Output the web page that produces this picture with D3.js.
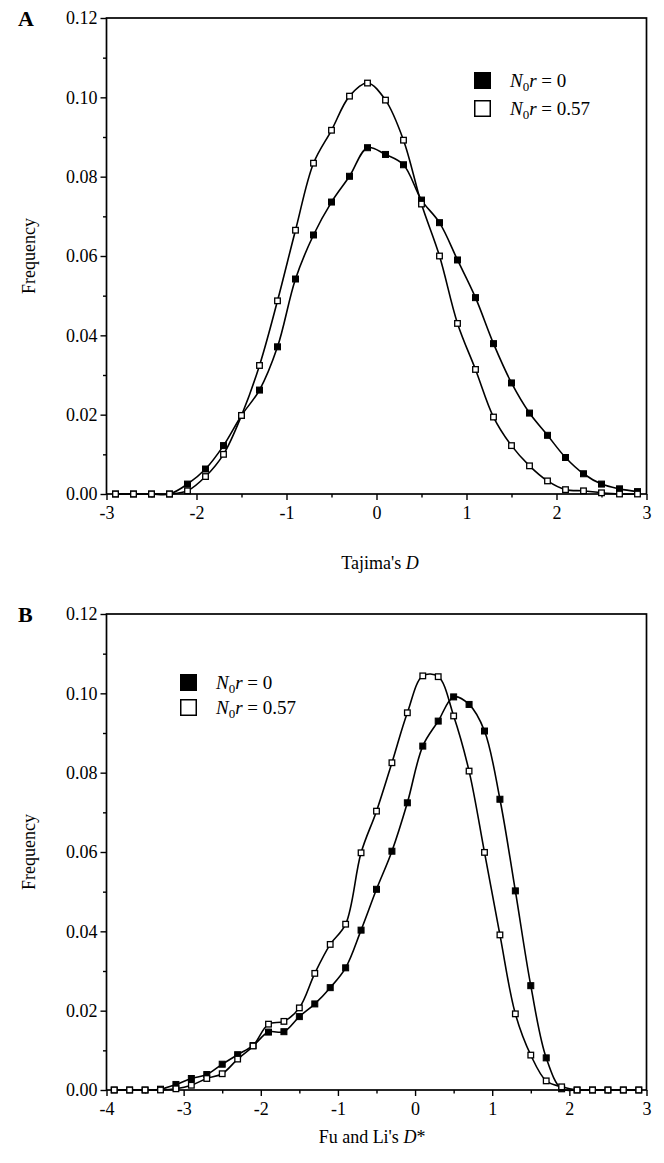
<!DOCTYPE html>
<html>
<head>
<meta charset="utf-8">
<script src="https://cdn.jsdelivr.net/npm/d3@7"></script>
<style>
  body { margin: 0; background: #fff; }
  svg text { font-family: "Liberation Serif", "Times New Roman", Times, serif !important; fill: #000; }
  .frame { fill: none; stroke: #000; stroke-width: 1.7px; }
  .axis path { display: none; }
  .axis line { stroke: #000; stroke-width: 1.4px; }
  .data-line { fill: none; stroke: #000; stroke-width: 1.6px; }
  .dot-filled { fill: #000; stroke: #000; stroke-width: 1px; }
  .dot-open { fill: #fff; stroke: #000; stroke-width: 1.3px; }
</style>
</head>
<body>
<svg id="chart" width="664" height="1163" font-family="Liberation Serif, serif"></svg>
<script>
// Panel A: Tajima's D
const tajimaD = [-2.9,-2.7,-2.5,-2.3,-2.1,-1.9,-1.7,-1.5,-1.3,-1.1,-0.9,-0.7,-0.5,-0.3,-0.1,
                 0.1,0.3,0.5,0.7,0.9,1.1,1.3,1.5,1.7,1.9,2.1,2.3,2.5,2.7,2.9];
const tajimaFreq0 = [0,0,0,0,0.0025,0.0063,0.0122,0.0198,0.0262,0.0371,0.0542,0.0653,0.0736,0.0801,0.0873,
                     0.0856,0.0830,0.0741,0.0684,0.0590,0.0495,0.0379,0.0280,0.0204,0.0148,0.0092,0.0051,0.0025,0.0013,0.0006];
const tajimaFreq057 = [0,0,0,0,0.0008,0.0044,0.0100,0.0198,0.0324,0.0487,0.0665,0.0834,0.0917,0.1003,0.1036,
                       0.0993,0.0892,0.0731,0.0600,0.0430,0.0314,0.0194,0.0122,0.0071,0.0033,0.0011,0.0008,0.0003,0,0];

// Panel B: Fu and Li's D*
const fuLiD = [-3.9,-3.7,-3.5,-3.3,-3.1,-2.9,-2.7,-2.5,-2.3,-2.1,-1.9,-1.7,-1.5,-1.3,-1.1,-0.9,-0.7,-0.5,-0.3,-0.1,
               0.1,0.3,0.5,0.7,0.9,1.1,1.3,1.5,1.7,1.9,2.1,2.3,2.5,2.7,2.9];
const fuLiFreq0 = [0,0,0,0.0002,0.0014,0.0029,0.0039,0.0065,0.0089,0.0112,0.0146,0.0147,0.0185,0.0217,0.0258,0.0308,0.0403,0.0506,0.0602,0.0724,
                   0.0867,0.0930,0.0991,0.0972,0.0905,0.0733,0.0502,0.0263,0.0081,0.0003,0,0,0,0,0];
const fuLiFreq057 = [0,0,0,0,0.0003,0.0012,0.0029,0.0041,0.0078,0.0111,0.0166,0.0173,0.0207,0.0294,0.0367,0.0418,0.0598,0.0703,0.0825,0.0951,
                     0.1044,0.1042,0.0943,0.0804,0.0599,0.0391,0.0192,0.0088,0.0023,0.0008,0,0,0,0,0];

const yTicks = [0, 0.02, 0.04, 0.06, 0.08, 0.10, 0.12];
const yMinorTicks = [0.01, 0.03, 0.05, 0.07, 0.09, 0.11];
const tajimaTicks = [-3, -2, -1, 0, 1, 2, 3];
const tajimaMinor = [-2.5, -1.5, -0.5, 0.5, 1.5, 2.5];
const fuLiTicks = [-4, -3, -2, -1, 0, 1, 2, 3];
const fuLiMinor = [-3.5, -2.5, -1.5, -0.5, 0.5, 1.5, 2.5];
const legendValues = ["0", "0.57"];

const FONT = "Liberation Serif, Times New Roman, serif";
const svg = d3.select("#chart");

function drawPanel(p) {
    let x = d3.scaleLinear().domain(p.xDomain).range([106.5, 646.5]);
    let y = d3.scaleLinear().domain([0, 0.12]).range([p.bottom, p.top]);

    let g = svg.append("g");

    // minor ticks
    g.append("g")
        .attr("class", "axis")
        .attr("transform", "translate(106.5,0)")
        .call(d3.axisLeft(y).tickValues(yMinorTicks).tickSize(3.5).tickFormat(""));
    g.append("g")
        .attr("class", "axis")
        .attr("transform", "translate(0," + p.bottom + ")")
        .call(d3.axisBottom(x).tickValues(p.xMinor).tickSize(3.5).tickFormat(""));

    // major ticks
    g.append("g")
        .attr("class", "axis")
        .attr("transform", "translate(106.5,0)")
        .call(d3.axisLeft(y).tickValues(yTicks).tickSize(6).tickPadding(3).tickFormat(d3.format(".2f")))
        .attr("font-family", FONT).attr("font-size", 18);
    g.append("g")
        .attr("class", "axis")
        .attr("transform", "translate(0," + p.bottom + ")")
        .call(d3.axisBottom(x).tickValues(p.xTicks).tickSize(6).tickPadding(6).tickFormat(d => String(d)))
        .attr("font-family", FONT).attr("font-size", 18);

    // frame
    g.append("rect")
        .attr("class", "frame")
        .attr("x", 106.5)
        .attr("y", p.top)
        .attr("width", 540)
        .attr("height", p.bottom - p.top);

    let line = d3.line()
        .curve(d3.curveCatmullRom.alpha(0.5))
        .x(d => x(d[0]))
        .y(d => y(d[1]));

    let s0 = p.xs.map((v, i) => [v, p.f0[i]]);
    let s1 = p.xs.map((v, i) => [v, p.f1[i]]);

    g.append("path").datum(s0).attr("class", "data-line").attr("d", line);
    g.append("path").datum(s1).attr("class", "data-line").attr("d", line);

    g.selectAll(".dot-filled")
        .data(s0)
        .enter().append("rect")
        .attr("class", "dot-filled")
        .attr("x", d => x(d[0]) - 3)
        .attr("y", d => y(d[1]) - 3)
        .attr("width", 6)
        .attr("height", 6);

    g.selectAll(".dot-open")
        .data(s1)
        .enter().append("rect")
        .attr("class", "dot-open")
        .attr("x", d => x(d[0]) - 2.8)
        .attr("y", d => y(d[1]) - 2.8)
        .attr("width", 5.6)
        .attr("height", 5.6);

    // panel letter
    svg.append("text")
        .attr("x", 18)
        .attr("y", p.top + 8)
        .attr("font-family", FONT)
        .attr("font-size", 22)
        .attr("font-weight", "bold")
        .text(p.letter);

    // y axis title
    svg.append("text")
        .attr("transform", "translate(35," + ((p.top + p.bottom) / 2) + ") rotate(-90)")
        .attr("text-anchor", "middle")
        .attr("font-family", FONT)
        .attr("font-size", 18)
        .text("Frequency");

    // x axis title
    let xt = svg.append("text")
        .attr("x", p.titleX)
        .attr("y", p.bottom + p.titleDy)
        .attr("text-anchor", "middle")
        .attr("font-family", FONT)
        .attr("font-size", 18);
    xt.append("tspan").text(p.titleText);
    xt.append("tspan").attr("font-style", "italic").text("D");
    if (p.star) xt.append("tspan").text("*");

    // legend
    legendValues.forEach((val, i) => {
        let cy = p.legendY + i * p.legendGap;
        svg.append("rect")
            .attr("x", p.legendX)
            .attr("y", cy - 8)
            .attr("width", i === 0 ? 17 : 15.5)
            .attr("height", i === 0 ? 17 : 15.5)
            .attr("fill", i === 0 ? "#000" : "#fff")
            .attr("stroke", "#000")
            .attr("stroke-width", i === 0 ? 0 : 1.5)
            .attr("transform", i === 0 ? "" : "translate(0.75,0.75)");
        let t = svg.append("text")
            .attr("x", p.legendX + 36)
            .attr("y", cy + 7)
            .attr("font-family", FONT)
            .attr("font-size", 19);
        t.append("tspan").attr("font-style", "italic").text("N");
        t.append("tspan").attr("font-size", 13).attr("dy", 4).text("0");
        t.append("tspan").attr("font-style", "italic").attr("dy", -4).text("r");
        t.append("tspan").text(" = " + val);
    });
}

drawPanel({
    letter: "A", top: 18, bottom: 494,
    xDomain: [-3, 3], xTicks: tajimaTicks, xMinor: tajimaMinor,
    xs: tajimaD, f0: tajimaFreq0, f1: tajimaFreq057,
    titleText: "Tajima's ", star: false, titleX: 380, titleDy: 75,
    legendX: 474, legendY: 80, legendGap: 28
});

drawPanel({
    letter: "B", top: 614, bottom: 1090,
    xDomain: [-4, 3], xTicks: fuLiTicks, xMinor: fuLiMinor,
    xs: fuLiD, f0: fuLiFreq0, f1: fuLiFreq057,
    titleText: "Fu and Li's ", star: true, titleX: 372, titleDy: 53,
    legendX: 180, legendY: 682, legendGap: 25
});
</script>
</body>
</html>
